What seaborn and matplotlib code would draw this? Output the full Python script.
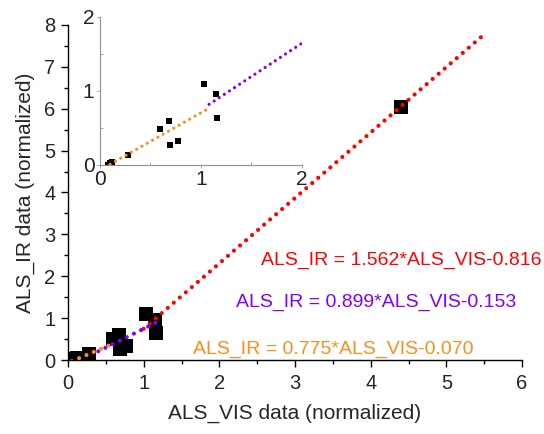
import matplotlib
matplotlib.use("Agg")
import matplotlib.pyplot as plt
from matplotlib.ticker import MultipleLocator
import pandas as pd
import seaborn as sns

sns.set_style("white")
plt.rcParams['font.family'] = ['Liberation Sans', 'DejaVu Sans']

# measured points (ALS_VIS, ALS_IR), normalized
vis = [0.08, 0.10, 0.12, 0.28, 0.59, 0.68, 0.69, 0.77, 1.03, 1.15, 1.16, 4.40]
ir = [0.00, 0.02, 0.04, 0.14, 0.49, 0.60, 0.27, 0.33, 1.10, 0.96, 0.64, 6.03]

# fitted trend segments (end points)
red_x, red_y = [1.00, 5.52], [0.746, 7.806]
purple_x, purple_y = [0.40, 1.20], [0.207, 0.926]
orange_x, orange_y = [0.05, 0.55], [-0.031, 0.356]
in_orange_x, in_orange_y = [0.10, 1.08], [0.008, 0.767]
in_purple_x, in_purple_y = [1.08, 2.10], [0.818, 1.735]

eq_red = "ALS_IR = 1.562*ALS_VIS-0.816"
eq_purple = "ALS_IR = 0.899*ALS_VIS-0.153"
eq_orange = "ALS_IR = 0.775*ALS_VIS-0.070"

RED, PURPLE, ORANGE = "#ff0000", "#8000ff", "#ff8c1a"

pts = pd.DataFrame({"vis": vis, "ir": ir})

fig = plt.figure(figsize=(5.44, 4.34), dpi=100)
ax = fig.add_axes([0.125, 0.1705, 0.8346, 0.772])

sns.scatterplot(data=pts, x="vis", y="ir", marker="s", s=110, color="black",
                edgecolor="black", linewidth=0, ax=ax, zorder=2)

dot = dict(linestyle=(0, (0.01, 1.9)), dash_capstyle="round", zorder=3)
sns.lineplot(x=red_x, y=red_y, color=RED, lw=3.0, ax=ax, **dot)
sns.lineplot(x=purple_x, y=purple_y, color=PURPLE, lw=3.0, ax=ax, **dot)
sns.lineplot(x=orange_x, y=orange_y, color=ORANGE, lw=3.0, ax=ax, **dot)

ax.set_xlim(0, 6)
ax.set_ylim(0, 8)
ax.xaxis.set_major_locator(MultipleLocator(1))
ax.xaxis.set_minor_locator(MultipleLocator(0.5))
ax.yaxis.set_major_locator(MultipleLocator(1))
ax.yaxis.set_minor_locator(MultipleLocator(0.5))
ax.tick_params(which="both", direction="out", bottom=True, left=True,
               color="black", width=1)
ax.tick_params(which="major", length=5, labelsize=14.5)
ax.tick_params(axis="x", which="major", pad=5)
ax.tick_params(axis="y", which="major", pad=4)
ax.tick_params(which="minor", length=3)
for s in ["top", "right"]:
    ax.spines[s].set_visible(False)
for s in ["left", "bottom"]:
    ax.spines[s].set_color("black")
    ax.spines[s].set_linewidth(1)
ax.set_xlabel("ALS_VIS data (normalized)", fontsize=15, labelpad=8)
ax.set_ylabel("ALS_IR data (normalized)", fontsize=15, labelpad=7)

ax.text(4.4, 2.39, eq_red, color=RED, fontsize=14, ha="center", va="center")
ax.text(4.07, 1.37, eq_purple, color=PURPLE, fontsize=14, ha="center", va="center")
ax.text(3.51, 0.26, eq_orange, color=ORANGE, fontsize=14, ha="center", va="center")

# inset
ins = fig.add_axes([0.1838, 0.62, 0.3713, 0.341])
ins.patch.set_alpha(0)
sns.scatterplot(data=pts, x="vis", y="ir", marker="s", s=24, color="black",
                edgecolor="black", linewidth=0, ax=ins, zorder=2)
dot_in = dict(linestyle=(0, (0.01, 1.9)), dash_capstyle="round", zorder=3)
sns.lineplot(x=in_orange_x, y=in_orange_y, color=ORANGE, lw=2.3, ax=ins, **dot_in)
sns.lineplot(x=in_purple_x, y=in_purple_y, color=PURPLE, lw=2.3, ax=ins, **dot_in)
ins.set_xlim(0, 2)
ins.set_ylim(0, 2)
ins.xaxis.set_major_locator(MultipleLocator(1))
ins.xaxis.set_minor_locator(MultipleLocator(0.5))
ins.yaxis.set_major_locator(MultipleLocator(1))
ins.yaxis.set_minor_locator(MultipleLocator(0.5))
ins.tick_params(which="major", direction="out", bottom=True, left=True,
                color="#909090", width=0.6, length=2.5,
                labelsize=15, labelcolor="#222222", pad=1.5)
ins.tick_params(which="minor", direction="in", bottom=True, left=True,
                color="#909090", width=0.6, length=2.5)
for s in ["top", "right"]:
    ins.spines[s].set_visible(False)
for s in ["left", "bottom"]:
    ins.spines[s].set_color("#909090")
    ins.spines[s].set_linewidth(0.8)
ins.set_xlabel("")
ins.set_ylabel("")

fig.savefig("out.png", dpi=100)
